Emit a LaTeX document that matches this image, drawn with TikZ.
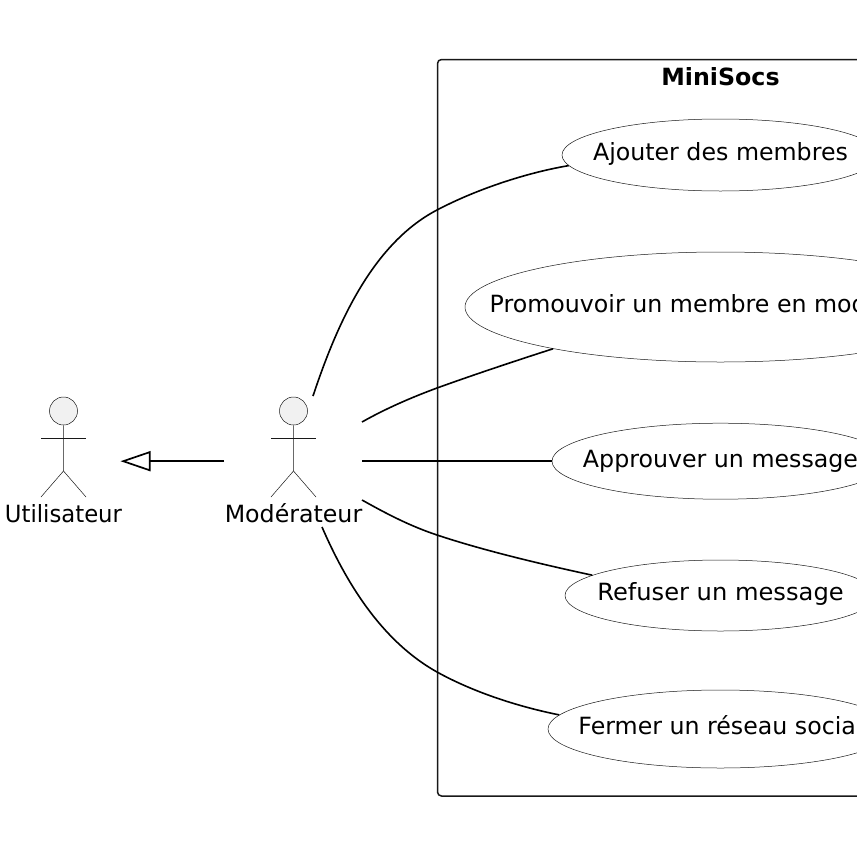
\documentclass[tikz,border=0pt]{standalone}
\usepackage{fontspec}
\usepackage{graphicx}
\setmainfont{DejaVu Sans}
\usetikzlibrary{shapes.geometric,arrows.meta}
\definecolor{ink}{HTML}{181818}
\definecolor{headfill}{HTML}{F1F1F1}
\tikzset{
  usecase/.style={draw=ink,line width=0.5pt,ellipse,inner sep=0pt,fill=white},
  lbl/.style={inner sep=0pt,anchor=base,text=black,font=\fontsize{23.7}{27}\selectfont},
  conn/.style={draw=black,line width=1.6pt},
  stick/.style={draw=ink,line width=0.5pt},
  frame/.style={draw=ink,line width=1.5pt,rounded corners=4pt},
  gen/.style={draw=black,line width=1.7pt,-{Triangle[open,length=30pt,width=20pt,fill=white]}}
}
\begin{document}
\begin{tikzpicture}[x=1pt,y=-1pt]
\useasboundingbox (0,0) rectangle (857,857);
\clip (0,0) rectangle (857,857);
% system frame
\draw[frame] (437.5,59.5) rectangle (1003.5,796);
\node[lbl,font=\fontsize{23.7}{27}\selectfont\bfseries] (title) at (720.5,85) {MiniSocs};
% use cases
\node[usecase,minimum width=317pt,minimum height=72pt] (uc1) at (720.5,155) {};
\node[usecase,minimum width=511pt,minimum height=110pt] (uc2) at (720.5,307) {};
\node[usecase,minimum width=337pt,minimum height=76pt] (uc3) at (720.5,461.2) {};
\node[usecase,minimum width=311pt,minimum height=71pt] (uc4) at (720.5,595.5) {};
\node[usecase,minimum width=345pt,minimum height=78pt] (uc5) at (720.5,729) {};
\node[lbl] (t1) at (720.5,160) {Ajouter des membres};
\node[lbl] (t2) at (722,312) {Promouvoir un membre en modérateur};
\node[lbl] (t3) at (720.5,467) {Approuver un message};
\node[lbl] (t4) at (720.5,600) {\scalebox{1.02}[1]{Refuser un message}};
\node[lbl] (t5) at (720.5,734) {Fermer un réseau social};
% actors
\foreach \cx/\nm/\txt in {63.5/util/{\scalebox{0.96}[1]{Utilisateur}},293.5/modo/Modérateur}{
  \node[draw=ink,line width=0.5pt,fill=headfill,circle,minimum size=28pt,inner sep=0pt] (\nm head) at (\cx,411) {};
  \draw[stick] (\nm head.south) -- (\cx,471) -- (\cx-22.5,497);
  \draw[stick] (\cx,471) -- (\cx+22.5,497);
  \draw[stick] (\cx-22.5,438) -- (\cx+22.5,438);
  \node[lbl] (\nm) at (\cx,522) {\txt};
}
% connector free ends
\coordinate (m1) at (313,396);
\coordinate (m2) at (362,422);
\coordinate (m3) at (362,461.2);
\coordinate (m4) at (362,500);
\coordinate (m5) at (322,527);
\coordinate (genstart) at (224,461.2);
\coordinate (gentip) at (120.5,461.2);
% connectors
\draw[conn] (m1) .. controls (335,330) and (370,245) .. (437,210) .. controls (475,190) and (525,173) .. (uc1.184.2);
\draw[conn] (m2) .. controls (385,409) and (410,398) .. (437,388) .. controls (473,375) and (515,361) .. (uc2.194.2);
\draw[conn] (m3) -- (uc3.west);
\draw[conn] (m4) .. controls (387,514) and (410,526) .. (437,535) .. controls (485,551) and (545,565) .. (uc4.171.1);
\draw[conn] (m5) .. controls (345,580) and (380,640) .. (437,672) .. controls (475,693) and (520,707) .. (uc5.175);
\draw[gen] (genstart) -- (gentip);
\end{tikzpicture}
\end{document}
